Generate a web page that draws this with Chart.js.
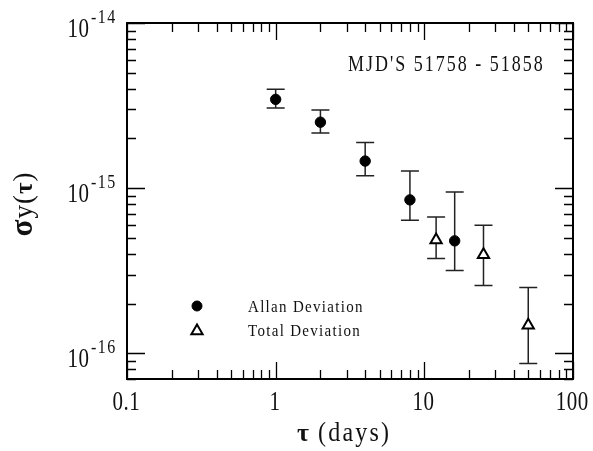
<!DOCTYPE html>
<html><head><meta charset="utf-8">
<script src="https://cdn.jsdelivr.net/npm/chart.js@4/dist/chart.umd.min.js"></script>
<style>html,body{margin:0;padding:0;background:#fff;}</style>
</head><body>
<canvas id="c" width="593" height="451"></canvas>
<script>
// ---- data ----
const allanTau   = [1, 2, 4, 8, 16];
const allanSigma = [3.45e-15, 2.51e-15, 1.46e-15, 8.5e-16, 4.8e-16];
const allanLow   = [3.06e-15, 2.16e-15, 1.19e-15, 6.4e-16, 3.18e-16];
const allanHigh  = [3.97e-15, 2.97e-15, 1.89e-15, 1.27e-15, 9.5e-16];

const totalTau   = [12, 25, 50];
const totalSigma = [4.85e-16, 3.96e-16, 1.48e-16];
const totalLow   = [3.75e-16, 2.58e-16, 8.7e-17];
const totalHigh  = [6.7e-16, 5.97e-16, 2.51e-16];

const xTickValues = [0.1, 1, 10, 100];
const xTickLabels = ['0.1', '1', '10', '100'];
const yTickValues = [1e-16, 1e-15, 1e-14];
const yTickExponents = ['-16', '-15', '-14'];
const seriesNames = ['Allan Deviation', 'Total Deviation'];
const annotationText = "MJD'S 51758 - 51858";
const xTitleSymbol = 'τ';
const xTitleText = '(days)';
const yTitleParts = [['σ', 'bold', 31], ['y', 'normal', 27], ['(', 'normal', 27], ['τ', 'bold', 25], [')', 'normal', 27]];

const X_MIN = 0.1, X_MAX = 100, Y_MIN = 7e-17, Y_MAX = 1e-14;
const FONT = '"Liberation Serif", "Times New Roman", serif';

function stext(ctx, str, x, y, size, o) {
  o = o || {};
  ctx.save();
  ctx.font = (o.weight || 'normal') + ' ' + size + 'px ' + (o.family || FONT);
  ctx.letterSpacing = (o.ls || 0) + 'px';
  ctx.fillStyle = '#111';
  ctx.textBaseline = 'alphabetic';
  ctx.textAlign = 'left';
  const w = ctx.measureText(str).width - (o.ls || 0);
  let x0 = x;
  if (o.align === 'center') x0 = x - w / 2;
  else if (o.align === 'right') x0 = x - w;
  ctx.translate(x0, y);
  ctx.scale(1, o.sy || 1);
  ctx.fillText(str, 0, 0);
  ctx.restore();
  return w;
}

function measure(ctx, str, size, weight, ls) {
  ctx.save();
  ctx.font = (weight || 'normal') + ' ' + size + 'px ' + FONT;
  ctx.letterSpacing = '0px';
  const w = ctx.measureText(str).width;
  ctx.restore();
  return w + (ls || 0);
}

function minorValues(min, max) {
  const out = [];
  for (let e = Math.floor(Math.log10(min)); e <= Math.ceil(Math.log10(max)); e++) {
    for (let m = 1; m <= 9; m++) {
      const v = m * Math.pow(10, e);
      if (v >= min * 0.999 && v <= max * 1.001) out.push({ v, major: m === 1 });
    }
  }
  return out;
}

const errorBars = {
  id: 'errorBars',
  beforeDatasetsDraw(chart) {
    const ctx = chart.ctx, xs = chart.scales.x, ys = chart.scales.y;
    ctx.save();
    ctx.strokeStyle = '#222';
    ctx.lineWidth = 1.5;
    const draw = (taus, lows, highs) => {
      taus.forEach((t, i) => {
        const px = xs.getPixelForValue(t);
        const pl = ys.getPixelForValue(lows[i]);
        const ph = ys.getPixelForValue(highs[i]);
        ctx.beginPath();
        ctx.moveTo(px, pl); ctx.lineTo(px, ph);
        ctx.moveTo(px - 9, pl); ctx.lineTo(px + 9, pl);
        ctx.moveTo(px - 9, ph); ctx.lineTo(px + 9, ph);
        ctx.stroke();
      });
    };
    draw(allanTau, allanLow, allanHigh);
    draw(totalTau, totalLow, totalHigh);
    ctx.restore();
  }
};

const frameAndText = {
  id: 'frameAndText',
  afterDraw(chart) {
    const ctx = chart.ctx, xs = chart.scales.x, ys = chart.scales.y;
    const a = chart.chartArea;
    ctx.save();
    ctx.strokeStyle = '#000';
    ctx.lineWidth = 1.3;
    minorValues(X_MIN, X_MAX).forEach(t => {
      const px = Math.round(xs.getPixelForValue(t.v)) + 0.5;
      const len = t.major ? 17 : 9;
      ctx.beginPath();
      ctx.moveTo(px, a.bottom); ctx.lineTo(px, a.bottom - len);
      ctx.moveTo(px, a.top); ctx.lineTo(px, a.top + len);
      ctx.stroke();
    });
    minorValues(Y_MIN, Y_MAX).forEach(t => {
      const py = Math.round(ys.getPixelForValue(t.v)) + 0.5;
      const len = t.major ? 18 : 9;
      ctx.beginPath();
      ctx.moveTo(a.left, py); ctx.lineTo(a.left + len, py);
      ctx.moveTo(a.right, py); ctx.lineTo(a.right - len, py);
      ctx.stroke();
    });
    ctx.lineWidth = 2;
    ctx.strokeRect(a.left, a.top, a.right - a.left, a.bottom - a.top);
    ctx.restore();

    // x tick labels
    xTickValues.forEach((v, i) => {
      const px = xs.getPixelForValue(v);
      stext(ctx, xTickLabels[i], px - 1, 410, 21, { align: 'center', sy: 1.27, ls: 0.5 });
    });
    // y tick labels
    yTickValues.forEach((v, i) => {
      const py = ys.getPixelForValue(v);
      stext(ctx, '10', 89, py + 14, 21, { align: 'right', sy: 1.35, ls: 0.5 });
      stext(ctx, yTickExponents[i], 91, py - 0.5, 16, { sy: 1.15, ls: 1.5 });
    });
    // x title
    stext(ctx, xTitleSymbol, 297, 441, 26, { weight: 'bold' });
    stext(ctx, xTitleText, 318, 441, 24, { ls: 2.2, sy: 1.15 });
    // y title (rotated)
    ctx.save();
    ctx.translate(32, 204);
    ctx.rotate(-Math.PI / 2);
    const total = yTitleParts.reduce((s, p) => s + measure(ctx, p[0], p[2], p[1], 1), 0);
    let cx = -total / 2;
    yTitleParts.forEach(p => {
      stext(ctx, p[0], cx, 0, p[2], { weight: p[1] });
      cx += measure(ctx, p[0], p[2], p[1], 1);
    });
    ctx.restore();
    // annotation
    stext(ctx, annotationText, 348, 71, 18, { ls: 2, sy: 1.3 });
    // legend
    const H = Chart.helpers;
    ctx.save();
    ctx.fillStyle = '#000'; ctx.strokeStyle = '#000'; ctx.lineWidth = 1;
    H.drawPoint(ctx, { pointStyle: 'circle', radius: 5, borderWidth: 1 }, 197, 306);
    ctx.fillStyle = '#fff'; ctx.lineWidth = 2;
    H.drawPoint(ctx, { pointStyle: 'triangle', radius: 6.5, borderWidth: 2 }, 197, 331);
    ctx.restore();
    stext(ctx, seriesNames[0], 248, 312, 15, { ls: 1.3, sy: 1.12 });
    stext(ctx, seriesNames[1], 248, 336, 15, { ls: 1.3, sy: 1.12 });
  }
};

new Chart(document.getElementById('c'), {
  type: 'scatter',
  data: {
    datasets: [
      {
        label: seriesNames[0],
        data: allanTau.map((t, i) => ({ x: t, y: allanSigma[i] })),
        pointStyle: 'circle', pointRadius: 5.2,
        backgroundColor: '#000', borderColor: '#000', borderWidth: 1
      },
      {
        label: seriesNames[1],
        data: totalTau.map((t, i) => ({ x: t, y: totalSigma[i] })),
        pointStyle: 'triangle', pointRadius: 6.5,
        backgroundColor: '#fff', borderColor: '#000', borderWidth: 2
      }
    ]
  },
  options: {
    responsive: false,
    animation: false,
    layout: { padding: { left: 127, right: 20, top: 23, bottom: 72 } },
    plugins: { legend: { display: false }, tooltip: { enabled: false } },
    scales: {
      x: { type: 'logarithmic', min: X_MIN, max: X_MAX, bounds: 'data', display: false },
      y: { type: 'logarithmic', min: Y_MIN, max: Y_MAX, bounds: 'data', display: false }
    }
  },
  plugins: [errorBars, frameAndText]
});
</script>
</body></html>
